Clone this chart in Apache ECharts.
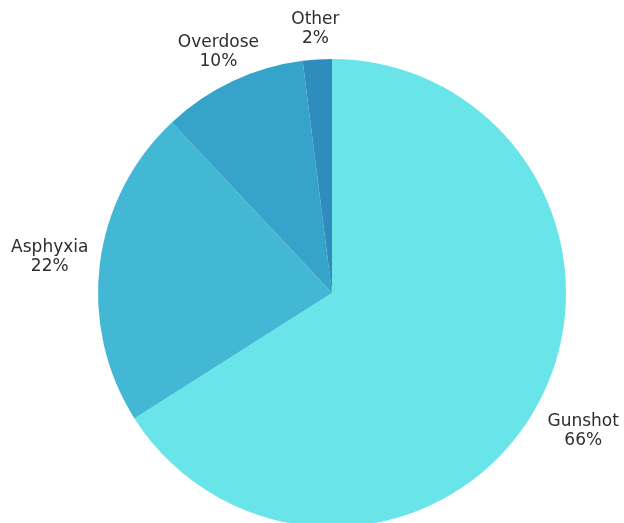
<!DOCTYPE html>
<html>
<head>
<meta charset="utf-8">
<script src="https://cdn.jsdelivr.net/npm/echarts@6/dist/echarts.min.js"></script>
<style>
  html, body { margin: 0; padding: 0; background: #ffffff; }
  #chart { width: 624px; height: 523px; }
</style>
</head>
<body>
<div id="chart"></div>
<script>
// Causes and their shares (percent)
const categories = ['Gunshot', 'Asphyxia', 'Overdose', 'Other'];
const shares = [66, 22, 10, 2];
const sliceColors = ['#69e5e9', '#43b8d5', '#36a3ca', '#2e8dbc'];

const CX = 332, CY = 293, R = 234;
const LABEL_GAP = 8.5, LABEL_PAD = 3;

const chart = echarts.init(document.getElementById('chart'), null, { renderer: 'canvas' });

chart.setOption({
  animation: false,
  series: [{
    type: 'pie',
    center: [CX, CY],
    radius: [0, R],
    startAngle: 90,
    clockwise: true,
    avoidLabelOverlap: false,
    data: categories.map((name, i) => ({
      name,
      value: shares[i],
      itemStyle: { color: sliceColors[i] }
    })),
    itemStyle: { borderWidth: 0 },
    label: {
      show: true,
      position: 'inside',
      formatter: p => p.name + '\n' + p.value + '%',
      fontFamily: 'DejaVu Sans',
      fontSize: 17,
      lineHeight: 19,
      color: '#2e2e2e',
      align: 'center'
    },
    labelLine: { show: false },
    // Slide each label outward along its slice's mid-angle until the padded
    // label box clears the rim by LABEL_GAP
    labelLayout: function (p) {
      const lr = p.labelRect;
      const mx = lr.x + lr.width / 2 - CX;
      const my = lr.y + lr.height / 2 - CY;
      const d = Math.hypot(mx, my) || 1;
      const ux = mx / d, uy = my / d;
      const hw = lr.width / 2 + LABEL_PAD;
      const hh = lr.height / 2 + LABEL_PAD;
      const t = Math.min(
        Math.abs(ux) > 1e-6 ? hw / Math.abs(ux) : Infinity,
        Math.abs(uy) > 1e-6 ? hh / Math.abs(uy) : Infinity
      );
      const dist = R + LABEL_GAP + t;
      return { x: CX + ux * dist, y: CY + uy * dist, align: 'center', verticalAlign: 'middle' };
    },
    emphasis: { disabled: true }
  }]
});
</script>
</body>
</html>
